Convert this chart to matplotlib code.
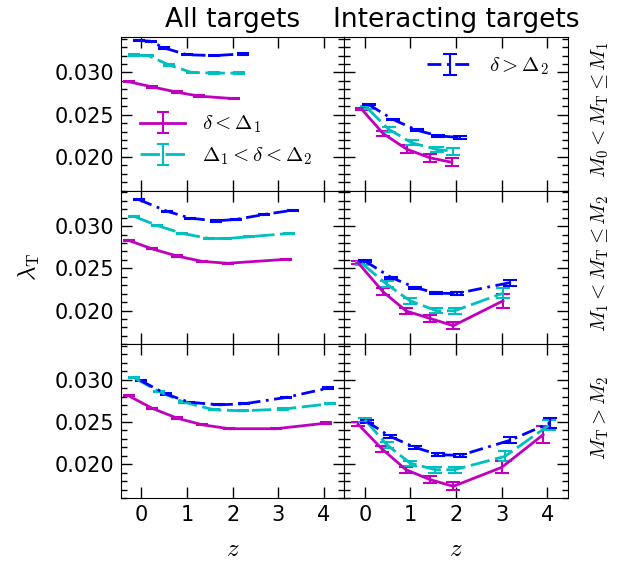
import matplotlib.pyplot as plt
from matplotlib.ticker import MultipleLocator, FormatStrFormatter

plt.rcParams['mathtext.fontset'] = 'cm'

# rows: M0<MT<=M1, M1<MT<=M2, MT>M2
# ---- All targets ----
z_all_lo = [[-0.28, 0.23, 0.78, 1.26, 2.03],
            [-0.28, 0.23, 0.78, 1.33, 1.89, 3.17],
            [-0.28, 0.23, 0.78, 1.33, 1.92, 2.95, 4.05]]
lam_all_lo = [[0.0289, 0.0283, 0.02767, 0.0272, 0.0269],
              [0.02831, 0.02732, 0.02646, 0.02583, 0.0256, 0.02607],
              [0.02811, 0.02664, 0.02546, 0.02468, 0.02421, 0.02421, 0.02487]]

z_all_mid = [[-0.17, 0.15, 0.6, 1.1, 1.6, 2.14],
             [-0.17, 0.34, 0.89, 1.48, 1.85, 2.36, 3.24],
             [-0.17, 0.38, 0.93, 1.59, 2.22, 3.10, 4.13]]
lam_all_mid = [[0.03205, 0.0320, 0.0309, 0.0300, 0.02993, 0.02993],
               [0.03118, 0.03008, 0.02914, 0.02855, 0.02852, 0.02874, 0.02914],
               [0.03027, 0.02862, 0.02735, 0.02645, 0.02633, 0.02653, 0.02716]]

z_all_hi = [[-0.06, 0.2, 0.5, 1.0, 1.6, 2.22],
            [-0.06, 0.56, 1.07, 1.63, 2.07, 2.69, 3.32],
            [-0.02, 0.53, 1.04, 1.70, 2.25, 3.17, 4.09]]
lam_all_hi = [[0.0338, 0.0337, 0.0329, 0.0321, 0.0320, 0.0322],
              [0.03315, 0.03177, 0.03094, 0.03063, 0.03079, 0.03138, 0.03189],
              [0.02992, 0.02834, 0.02735, 0.02704, 0.02716, 0.02791, 0.02901]]

# ---- Interacting targets ----
z_int_lo = [[-0.07, 0.40, 0.92, 1.43, 1.90],
            [-0.15, 0.40, 0.91, 1.43, 1.94, 3.03],
            [-0.15, 0.37, 0.90, 1.43, 1.94, 3.0, 3.91]]
lam_int_lo = [[0.02565, 0.02277, 0.02091, 0.01989, 0.01937],
              [0.02567, 0.02222, 0.01994, 0.01907, 0.01821, 0.02116],
              [0.02475, 0.02184, 0.01936, 0.01818, 0.01739, 0.01963, 0.0235]]
err_int_lo = [[0.0001, 0.0003, 0.00045, 0.00045, 0.0005],
              [0.0002, 0.0004, 0.00035, 0.0004, 0.00045, 0.0008],
              [0.0002, 0.00035, 0.00035, 0.0004, 0.00045, 0.0007, 0.001]]

z_int_mid = [[0.04, 0.52, 1.03, 1.58, 1.94],
             [-0.07, 0.48, 0.99, 1.57, 1.97, 3.03],
             [0.0, 0.48, 0.99, 1.54, 1.97, 3.07, 4.03]]
lam_int_mid = [[0.02585, 0.02328, 0.02166, 0.02088, 0.02068],
               [0.0256, 0.02312, 0.02116, 0.01998, 0.01998, 0.02206],
               [0.02527, 0.02232, 0.02014, 0.01936, 0.01936, 0.02093, 0.0246]]
err_int_mid = [[0.00015, 0.0003, 0.0003, 0.0003, 0.0004],
               [0.0002, 0.00035, 0.00035, 0.0003, 0.00035, 0.0006],
               [0.00025, 0.00035, 0.0003, 0.00035, 0.00035, 0.0006, 0.0006]]

z_int_hi = [[0.08, 0.62, 1.14, 1.61, 2.09],
            [0.0, 0.58, 1.10, 1.57, 2.01, 3.19],
            [0.04, 0.55, 1.10, 1.61, 2.09, 3.18, 4.05]]
lam_int_hi = [[0.02621, 0.02443, 0.02316, 0.02249, 0.0223],
              [0.02587, 0.02391, 0.02273, 0.02206, 0.02202, 0.02332],
              [0.02507, 0.0233, 0.022, 0.02113, 0.02105, 0.02283, 0.02487]]
err_int_hi = [[0.0001, 0.0001, 0.0001, 0.00012, 0.00012],
              [0.0001, 0.00012, 0.00012, 0.00015, 0.00015, 0.00035],
              [0.00015, 0.00015, 0.00015, 0.00015, 0.00015, 0.00035, 0.0006]]

err_all = 0.00008

col_titles = ['All targets', 'Interacting targets']
row_labels = [r'$M_0 < M_\mathrm{T} \leq M_1$',
              r'$M_1 < M_\mathrm{T} \leq M_2$',
              r'$M_\mathrm{T} > M_2$']
labels = [r'$\delta < \Delta_1$', r'$\Delta_1 < \delta < \Delta_2$', r'$\delta > \Delta_2$']

styles = [dict(color='m', ls='-'),
          dict(color='c', dashes=(7, 2)),
          dict(color='b', dashes=(5, 2, 1, 2))]

fig, axes = plt.subplots(3, 2, sharex=True, sharey=True, figsize=(6.33, 5.66), dpi=100)
fig.subplots_adjust(left=0.191, right=0.897, top=0.9346, bottom=0.1201, wspace=0, hspace=0)

for r in range(3):
    # left column: all targets
    ax = axes[r, 0]
    for i, (zz, ll) in enumerate([(z_all_lo, lam_all_lo), (z_all_mid, lam_all_mid), (z_all_hi, lam_all_hi)]):
        ax.errorbar(zz[r], ll[r], yerr=err_all, lw=2, elinewidth=1.5, capsize=4, capthick=1.5,
                    label=labels[i], **styles[i])
    # right column: interacting
    ax = axes[r, 1]
    for i, (zz, ll, ee) in enumerate([(z_int_lo, lam_int_lo, err_int_lo),
                                      (z_int_mid, lam_int_mid, err_int_mid),
                                      (z_int_hi, lam_int_hi, err_int_hi)]):
        ax.errorbar(zz[r], ll[r], yerr=ee[r], lw=2, elinewidth=1.5, capsize=5, capthick=1.5,
                    label=labels[i], **styles[i])
    fig.text(0.948, 1 - (110 + 154 * r) / 566, row_labels[r], rotation=90,
             ha='center', va='center', fontsize=15)

for ax in axes.flat:
    ax.set_xlim(-0.45, 4.45)
    ax.set_ylim(0.016, 0.0342)
    ax.xaxis.set_major_locator(MultipleLocator(1))
    ax.yaxis.set_major_locator(MultipleLocator(0.005))
    ax.yaxis.set_minor_locator(MultipleLocator(0.001))
    ax.yaxis.set_major_formatter(FormatStrFormatter('%.3f'))
    ax.tick_params(which='both', direction='in', top=True, right=True, labelsize=15)
    ax.tick_params(which='major', length=8, width=1, pad=5)
    ax.tick_params(which='minor', length=4, width=1)

for c in range(2):
    axes[0, c].set_title(col_titles[c], fontsize=19, pad=7)
    axes[2, c].set_xlabel(r'$z$', fontsize=18, labelpad=9)

fig.text(0.047, 0.528, r'$\lambda_\mathrm{T}$', rotation=90, ha='center', va='center', fontsize=18)

h, l = axes[0, 0].get_legend_handles_labels()
axes[0, 0].legend(h[:2], l[:2], loc='lower left', bbox_to_anchor=(0.0, 0.03),
                  frameon=False, fontsize=15, handlelength=2.2, labelspacing=0.5)
h, l = axes[0, 1].get_legend_handles_labels()
axes[0, 1].legend(h[2:], l[2:], loc='upper right', frameon=False, fontsize=15,
                  handlelength=2.2)

fig.savefig('out.png', dpi=100)
